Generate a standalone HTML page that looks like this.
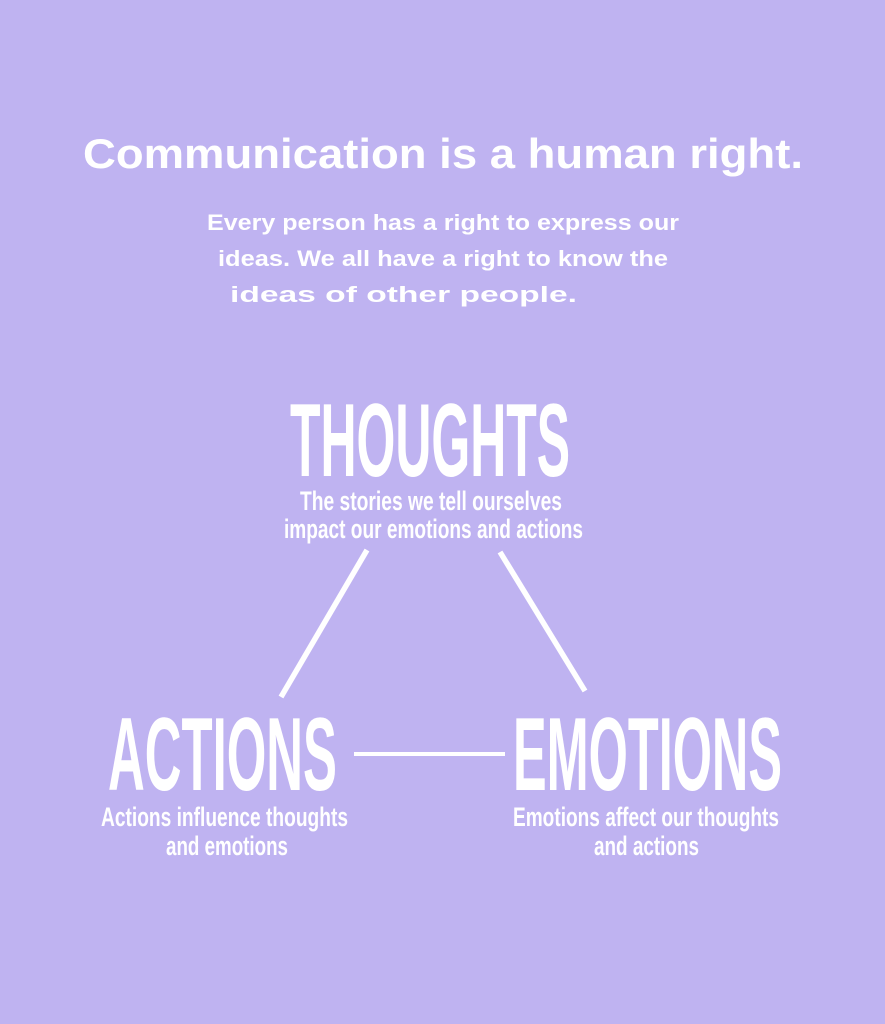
<!DOCTYPE html>
<html><head><meta charset="utf-8"><style>
html,body{margin:0;padding:0;background:#bfb3f1;}
svg{display:block;}
text{fill:#fff;font-family:"Liberation Sans",sans-serif;font-weight:bold;}
</style></head><body>
<svg width="885" height="1024" viewBox="0 0 885 1024">
<rect width="885" height="1024" fill="#bfb3f1"/>
<text x="83" y="168" font-size="42" textLength="720" lengthAdjust="spacingAndGlyphs">Communication is a human right.</text>
<text x="207" y="230" font-size="22" textLength="472" lengthAdjust="spacingAndGlyphs">Every person has a right to express our</text>
<text x="218" y="266" font-size="22" textLength="450" lengthAdjust="spacingAndGlyphs">ideas. We all have a right to know the</text>
<text x="230" y="302" font-size="22" textLength="347" lengthAdjust="spacingAndGlyphs">ideas of other people.</text>

<text x="290" y="476" font-size="104" textLength="280" lengthAdjust="spacingAndGlyphs">THOUGHTS</text>
<text x="300" y="510" font-size="27" textLength="262" lengthAdjust="spacingAndGlyphs">The stories we tell ourselves</text>
<text x="284" y="538" font-size="27" textLength="299" lengthAdjust="spacingAndGlyphs">impact our emotions and actions</text>

<line x1="367" y1="550" x2="281" y2="697" stroke="#fff" stroke-width="5.5"/>
<line x1="500" y1="552" x2="585" y2="691" stroke="#fff" stroke-width="5.5"/>
<line x1="354" y1="754" x2="505" y2="754" stroke="#fff" stroke-width="4"/>

<text x="108" y="790" font-size="104" textLength="229" lengthAdjust="spacingAndGlyphs">ACTIONS</text>
<text x="101" y="826" font-size="27" textLength="247" lengthAdjust="spacingAndGlyphs">Actions influence thoughts</text>
<text x="166" y="855" font-size="27" textLength="122" lengthAdjust="spacingAndGlyphs">and emotions</text>

<text x="513" y="790" font-size="104" textLength="269" lengthAdjust="spacingAndGlyphs">EMOTIONS</text>
<text x="513" y="826" font-size="27" textLength="266" lengthAdjust="spacingAndGlyphs">Emotions affect our thoughts</text>
<text x="594" y="855" font-size="27" textLength="105" lengthAdjust="spacingAndGlyphs">and actions</text>
</svg>
</body></html>
